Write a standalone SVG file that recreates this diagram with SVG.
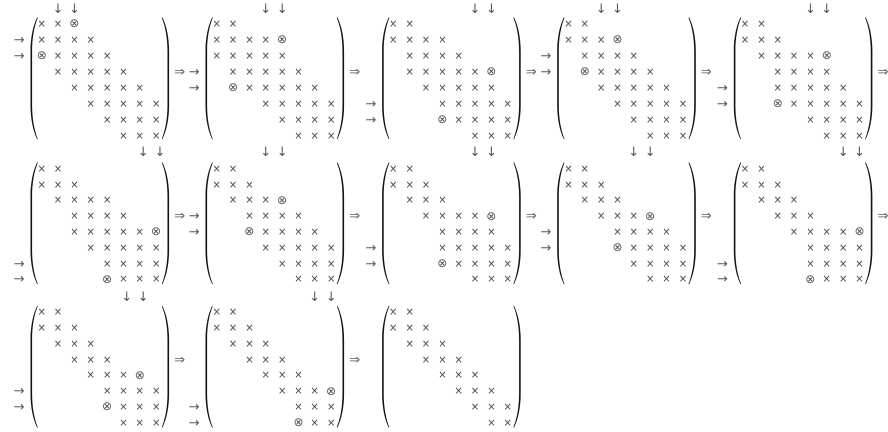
<svg xmlns="http://www.w3.org/2000/svg" xmlns:xlink="http://www.w3.org/1999/xlink" width="888" height="432" viewBox="0 0 888 432">
<style>
text.e{font-family:"DejaVu Sans",sans-serif;font-size:10px;fill:#444;text-anchor:middle;dominant-baseline:central}
text.o{font-family:"DejaVu Sans",sans-serif;font-size:12px;fill:#555;text-anchor:middle;dominant-baseline:central}
text.a{font-family:"DejaVu Sans",sans-serif;font-size:13px;fill:#555;text-anchor:middle;dominant-baseline:central}
.p{fill:#111}
</style>
<defs>
<path id="lp" class="p" d="M-4.5,-6 C-8.5,2 -11.2,14 -11.2,28 L-11.2,82 C-11.2,96 -8.5,108 -4.5,116 L-3.9,115.6 C-7.5,107 -9.6,95 -9.6,82 L-9.6,28 C-9.6,15 -7.5,3 -3.9,-5.6 Z"/>
<g id="par"><use href="#lp"/><use href="#lp" transform="matrix(-1 0 0 1 116.2 0)"/></g>
</defs>
<rect width="888" height="432" fill="#fff"/>
<g opacity="0.99">

<g id="m1" transform="translate(41.7,23.3)">
<use href="#par"/>
<text class="e" x="0 16.35" y="0">××</text><text class="o" x="32.7" y="0">⊗</text>
<text class="e" x="0 16.35 32.7 49.05" y="16">××××</text>
<text class="o" x="0" y="32">⊗</text><text class="e" x="16.35 32.7 49.05 65.4" y="32">××××</text>
<text class="e" x="16.35 32.7 49.05 65.4 81.75" y="48">×××××</text>
<text class="e" x="32.7 49.05 65.4 81.75 98.1" y="64">×××××</text>
<text class="e" x="49.05 65.4 81.75 98.1 114.45" y="80">×××××</text>
<text class="e" x="65.4 81.75 98.1 114.45" y="96">××××</text>
<text class="e" x="81.75 98.1 114.45" y="112">×××</text>
<text class="a" x="-22.7" y="16">→</text><text class="a" x="-22.7" y="32">→</text>
<text class="a" x="16.35 32.7" y="-15">↓↓</text>
</g>

<g id="m2" transform="translate(216.7,23.3)">
<use href="#par"/>
<text class="e" x="0 16.35" y="0">××</text>
<text class="e" x="0 16.35 32.7 49.05" y="16">××××</text><text class="o" x="65.4" y="16">⊗</text>
<text class="e" x="0 16.35 32.7 49.05 65.4" y="32">×××××</text>
<text class="e" x="16.35 32.7 49.05 65.4 81.75" y="48">×××××</text>
<text class="o" x="16.35" y="64">⊗</text><text class="e" x="32.7 49.05 65.4 81.75 98.1" y="64">×××××</text>
<text class="e" x="49.05 65.4 81.75 98.1 114.45" y="80">×××××</text>
<text class="e" x="65.4 81.75 98.1 114.45" y="96">××××</text>
<text class="e" x="81.75 98.1 114.45" y="112">×××</text>
<text class="a" x="-22.7" y="48">→</text><text class="a" x="-22.7" y="64">→</text>
<text class="a" x="49.05 65.4" y="-15">↓↓</text>
</g>

<g id="m3" transform="translate(393.3,23.3)">
<use href="#par"/>
<text class="e" x="0 16.35" y="0">××</text>
<text class="e" x="0 16.35 32.7 49.05" y="16">××××</text>
<text class="e" x="16.35 32.7 49.05 65.4" y="32">××××</text>
<text class="e" x="16.35 32.7 49.05 65.4 81.75" y="48">×××××</text><text class="o" x="98.1" y="48">⊗</text>
<text class="e" x="32.7 49.05 65.4 81.75 98.1" y="64">×××××</text>
<text class="e" x="49.05 65.4 81.75 98.1 114.45" y="80">×××××</text>
<text class="o" x="49.05" y="96">⊗</text><text class="e" x="65.4 81.75 98.1 114.45" y="96">××××</text>
<text class="e" x="81.75 98.1 114.45" y="112">×××</text>
<text class="a" x="-22.7" y="80">→</text><text class="a" x="-22.7" y="96">→</text>
<text class="a" x="81.75 98.1" y="-15">↓↓</text>
</g>

<g id="m4" transform="translate(568.4,23.3)">
<use href="#par"/>
<text class="e" x="0 16.35" y="0">××</text>
<text class="e" x="0 16.35 32.7" y="16">×××</text><text class="o" x="49.05" y="16">⊗</text>
<text class="e" x="16.35 32.7 49.05 65.4" y="32">××××</text>
<text class="o" x="16.35" y="48">⊗</text><text class="e" x="32.7 49.05 65.4 81.75" y="48">××××</text>
<text class="e" x="32.7 49.05 65.4 81.75 98.1" y="64">×××××</text>
<text class="e" x="49.05 65.4 81.75 98.1 114.45" y="80">×××××</text>
<text class="e" x="65.4 81.75 98.1 114.45" y="96">××××</text>
<text class="e" x="81.75 98.1 114.45" y="112">×××</text>
<text class="a" x="-22.7" y="32">→</text><text class="a" x="-22.7" y="48">→</text>
<text class="a" x="32.7 49.05" y="-15">↓↓</text>
</g>

<g id="m5" transform="translate(745,23.3)">
<use href="#par"/>
<text class="e" x="0 16.35" y="0">××</text>
<text class="e" x="0 16.35 32.7" y="16">×××</text>
<text class="e" x="16.35 32.7 49.05 65.4" y="32">××××</text><text class="o" x="81.75" y="32">⊗</text>
<text class="e" x="32.7 49.05 65.4 81.75" y="48">××××</text>
<text class="e" x="32.7 49.05 65.4 81.75 98.1" y="64">×××××</text>
<text class="o" x="32.7" y="80">⊗</text><text class="e" x="49.05 65.4 81.75 98.1 114.45" y="80">×××××</text>
<text class="e" x="65.4 81.75 98.1 114.45" y="96">××××</text>
<text class="e" x="81.75 98.1 114.45" y="112">×××</text>
<text class="a" x="-22.7" y="64">→</text><text class="a" x="-22.7" y="80">→</text>
<text class="a" x="65.4 81.75" y="-15">↓↓</text>
</g>

<g id="m6" transform="translate(41.7,168.3)">
<use href="#par"/>
<text class="e" x="0 16.35" y="0">××</text>
<text class="e" x="0 16.35 32.7" y="15.8">×××</text>
<text class="e" x="16.35 32.7 49.05 65.4" y="31.6">××××</text>
<text class="e" x="32.7 49.05 65.4 81.75" y="47.4">××××</text>
<text class="e" x="32.7 49.05 65.4 81.75 98.1" y="63.2">×××××</text><text class="o" x="114.45" y="63.2">⊗</text>
<text class="e" x="49.05 65.4 81.75 98.1 114.45" y="79">×××××</text>
<text class="e" x="65.4 81.75 98.1 114.45" y="94.8">××××</text>
<text class="o" x="65.4" y="110.6">⊗</text><text class="e" x="81.75 98.1 114.45" y="110.6">×××</text>
<text class="a" x="-22.7" y="94.8">→</text><text class="a" x="-22.7" y="110.6">→</text>
<text class="a" x="101.6 118.3" y="-17">↓↓</text>
</g>

<g id="m7" transform="translate(216.7,168.3)">
<use href="#par"/>
<text class="e" x="0 16.35" y="0">××</text>
<text class="e" x="0 16.35 32.7" y="15.8">×××</text>
<text class="e" x="16.35 32.7 49.05" y="31.6">×××</text><text class="o" x="65.4" y="31.6">⊗</text>
<text class="e" x="32.7 49.05 65.4 81.75" y="47.4">××××</text>
<text class="o" x="32.7" y="63.2">⊗</text><text class="e" x="49.05 65.4 81.75 98.1" y="63.2">××××</text>
<text class="e" x="49.05 65.4 81.75 98.1 114.45" y="79">×××××</text>
<text class="e" x="65.4 81.75 98.1 114.45" y="94.8">××××</text>
<text class="e" x="81.75 98.1 114.45" y="110.6">×××</text>
<text class="a" x="-22.7" y="47.4">→</text><text class="a" x="-22.7" y="63.2">→</text>
<text class="a" x="49.05 65.4" y="-17">↓↓</text>
</g>

<g id="m8" transform="translate(393.3,168.3)">
<use href="#par"/>
<text class="e" x="0 16.35" y="0">××</text>
<text class="e" x="0 16.35 32.7" y="15.8">×××</text>
<text class="e" x="16.35 32.7 49.05" y="31.6">×××</text>
<text class="e" x="32.7 49.05 65.4 81.75" y="47.4">××××</text><text class="o" x="98.1" y="47.4">⊗</text>
<text class="e" x="49.05 65.4 81.75 98.1" y="63.2">××××</text>
<text class="e" x="49.05 65.4 81.75 98.1 114.45" y="79">×××××</text>
<text class="o" x="49.05" y="94.8">⊗</text><text class="e" x="65.4 81.75 98.1 114.45" y="94.8">××××</text>
<text class="e" x="81.75 98.1 114.45" y="110.6">×××</text>
<text class="a" x="-22.7" y="79">→</text><text class="a" x="-22.7" y="94.8">→</text>
<text class="a" x="81.75 98.1" y="-17">↓↓</text>
</g>

<g id="m9" transform="translate(568.4,168.3)">
<use href="#par"/>
<text class="e" x="0 16.35" y="0">××</text>
<text class="e" x="0 16.35 32.7" y="15.8">×××</text>
<text class="e" x="16.35 32.7 49.05" y="31.6">×××</text>
<text class="e" x="32.7 49.05 65.4" y="47.4">×××</text><text class="o" x="81.75" y="47.4">⊗</text>
<text class="e" x="49.05 65.4 81.75 98.1" y="63.2">××××</text>
<text class="o" x="49.05" y="79">⊗</text><text class="e" x="65.4 81.75 98.1 114.45" y="79">××××</text>
<text class="e" x="65.4 81.75 98.1 114.45" y="94.8">××××</text>
<text class="e" x="81.75 98.1 114.45" y="110.6">×××</text>
<text class="a" x="-22.7" y="63.2">→</text><text class="a" x="-22.7" y="79">→</text>
<text class="a" x="65.4 81.75" y="-17">↓↓</text>
</g>

<g id="m10" transform="translate(745,168.3)">
<use href="#par"/>
<text class="e" x="0 16.35" y="0">××</text>
<text class="e" x="0 16.35 32.7" y="15.8">×××</text>
<text class="e" x="16.35 32.7 49.05" y="31.6">×××</text>
<text class="e" x="32.7 49.05 65.4" y="47.4">×××</text>
<text class="e" x="49.05 65.4 81.75 98.1" y="63.2">××××</text><text class="o" x="114.45" y="63.2">⊗</text>
<text class="e" x="65.4 81.75 98.1 114.45" y="79">××××</text>
<text class="e" x="65.4 81.75 98.1 114.45" y="94.8">××××</text>
<text class="o" x="65.4" y="110.6">⊗</text><text class="e" x="81.75 98.1 114.45" y="110.6">×××</text>
<text class="a" x="-22.7" y="94.8">→</text><text class="a" x="-22.7" y="110.6">→</text>
<text class="a" x="98.1 114.45" y="-17">↓↓</text>
</g>

<g id="m11" transform="translate(41.7,311.7)">
<use href="#par"/>
<text class="e" x="0 16.35" y="0">××</text>
<text class="e" x="0 16.35 32.7" y="15.8">×××</text>
<text class="e" x="16.35 32.7 49.05" y="31.6">×××</text>
<text class="e" x="32.7 49.05 65.4" y="47.4">×××</text>
<text class="e" x="49.05 65.4 81.75" y="63.2">×××</text><text class="o" x="98.1" y="63.2">⊗</text>
<text class="e" x="65.4 81.75 98.1 114.45" y="79">××××</text>
<text class="o" x="65.4" y="94.8">⊗</text><text class="e" x="81.75 98.1 114.45" y="94.8">×××</text>
<text class="e" x="81.75 98.1 114.45" y="110.6">×××</text>
<text class="a" x="-22.7" y="79">→</text><text class="a" x="-22.7" y="94.8">→</text>
<text class="a" x="85 101.6" y="-15">↓↓</text>
</g>

<g id="m12" transform="translate(216.7,311.7)">
<use href="#par"/>
<text class="e" x="0 16.35" y="0">××</text>
<text class="e" x="0 16.35 32.7" y="15.8">×××</text>
<text class="e" x="16.35 32.7 49.05" y="31.6">×××</text>
<text class="e" x="32.7 49.05 65.4" y="47.4">×××</text>
<text class="e" x="49.05 65.4 81.75" y="63.2">×××</text>
<text class="e" x="65.4 81.75 98.1" y="79">×××</text><text class="o" x="114.45" y="79">⊗</text>
<text class="e" x="81.75 98.1 114.45" y="94.8">×××</text>
<text class="o" x="81.75" y="110.6">⊗</text><text class="e" x="98.1 114.45" y="110.6">××</text>
<text class="a" x="-22.7" y="94.8">→</text><text class="a" x="-22.7" y="110.6">→</text>
<text class="a" x="98.1 114.45" y="-15">↓↓</text>
</g>

<g id="m13" transform="translate(393.3,311.7)">
<use href="#par"/>
<text class="e" x="0 16.35" y="0">××</text>
<text class="e" x="0 16.35 32.7" y="15.8">×××</text>
<text class="e" x="16.35 32.7 49.05" y="31.6">×××</text>
<text class="e" x="32.7 49.05 65.4" y="47.4">×××</text>
<text class="e" x="49.05 65.4 81.75" y="63.2">×××</text>
<text class="e" x="65.4 81.75 98.1" y="79">×××</text>
<text class="e" x="81.75 98.1 114.45" y="94.8">×××</text>
<text class="e" x="98.1 114.45" y="110.6">××</text>
</g>

<g id="connectors">
<text class="a" x="179.6" y="71.3">⇒</text>
<text class="a" x="354.6" y="71.3">⇒</text>
<text class="a" x="531.2" y="71.3">⇒</text>
<text class="a" x="706.3" y="71.3">⇒</text>
<text class="a" x="882.9" y="71.3">⇒</text>
<text class="a" x="179.6" y="215.7">⇒</text>
<text class="a" x="354.6" y="215.7">⇒</text>
<text class="a" x="531.2" y="215.7">⇒</text>
<text class="a" x="706.3" y="215.7">⇒</text>
<text class="a" x="882.9" y="215.7">⇒</text>
<text class="a" x="179.6" y="359.1">⇒</text>
<text class="a" x="354.6" y="359.1">⇒</text>
</g>
</g>
</svg>
